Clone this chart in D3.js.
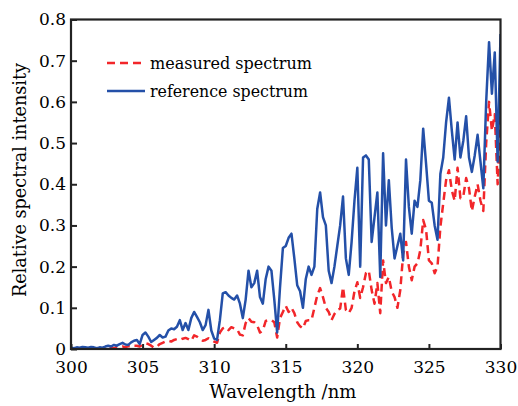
<!DOCTYPE html>
<html lang="en">
<head>
<meta charset="UTF-8">
<title>Relative spectral intensity</title>
<script src="https://d3js.org/d3.v7.min.js"></script>
<style>
  html, body { margin: 0; padding: 0; background: #fff; }
  svg { display: block; }
  text { font-family: "DejaVu Serif", serif; fill: #000; }
</style>
</head>
<body>
<svg id="chart" width="518" height="406"></svg>
<script>
// sampling grid (nm)
const wlStart = 300, wlStep = 0.2;

const reference = [
  0.003, 0.002, 0.004, 0.003, 0.005, 0.004, 0.003, 0.005, 0.004, 0.002,
  0.004, 0.003, 0.006, 0.008, 0.006, 0.010, 0.008, 0.012, 0.015, 0.011,
  0.010, 0.016, 0.020, 0.022, 0.012, 0.034, 0.040, 0.030, 0.017, 0.022,
  0.027, 0.034, 0.028, 0.030, 0.045, 0.050, 0.048, 0.054, 0.070, 0.046,
  0.063, 0.046, 0.075, 0.090, 0.078, 0.065, 0.046, 0.058, 0.095, 0.045,
  0.025, 0.022, 0.070, 0.135, 0.138, 0.130, 0.124, 0.120, 0.130, 0.110,
  0.075, 0.120, 0.190, 0.150, 0.160, 0.190, 0.126, 0.110, 0.170, 0.200,
  0.190, 0.120, 0.040, 0.150, 0.245, 0.250, 0.270, 0.280, 0.220, 0.155,
  0.140, 0.100, 0.170, 0.200, 0.180, 0.200, 0.340, 0.380, 0.320, 0.300,
  0.190, 0.160, 0.200, 0.250, 0.300, 0.370, 0.220, 0.180, 0.260, 0.360,
  0.440, 0.200, 0.465, 0.470, 0.460, 0.260, 0.320, 0.380, 0.175, 0.475,
  0.300, 0.410, 0.295, 0.220, 0.250, 0.280, 0.215, 0.460, 0.345, 0.280,
  0.360, 0.345, 0.410, 0.535, 0.450, 0.360, 0.355, 0.300, 0.265, 0.425,
  0.465, 0.550, 0.610, 0.530, 0.460, 0.550, 0.465, 0.505, 0.565, 0.465,
  0.430, 0.470, 0.520, 0.455, 0.390, 0.600, 0.745, 0.620, 0.720, 0.455,
  0.765
];

const measured = [
  0.000, 0.000, 0.001, 0.000, 0.001, 0.000, 0.001, 0.000, 0.001, 0.000,
  0.001, 0.000, 0.001, 0.002, 0.003, 0.002, 0.005, 0.004, 0.006, 0.004,
  0.007, 0.005, 0.008, 0.008, 0.006, 0.010, 0.014, 0.012, 0.008, 0.003,
  0.006, 0.012, 0.015, 0.018, 0.020, 0.018, 0.022, 0.024, 0.022, 0.025,
  0.027, 0.024, 0.020, 0.033, 0.030, 0.024, 0.020, 0.022, 0.026, 0.022,
  0.018, 0.015, 0.040, 0.050, 0.053, 0.046, 0.053, 0.050, 0.048, 0.035,
  0.033, 0.063, 0.075, 0.066, 0.065, 0.058, 0.040, 0.045, 0.068, 0.070,
  0.070, 0.065, 0.028, 0.075, 0.090, 0.105, 0.090, 0.100, 0.087, 0.065,
  0.055, 0.050, 0.068, 0.070, 0.070, 0.100, 0.130, 0.148, 0.126, 0.100,
  0.090, 0.070, 0.085, 0.095, 0.098, 0.150, 0.095, 0.087, 0.100, 0.140,
  0.162, 0.124, 0.150, 0.184, 0.190, 0.143, 0.110, 0.160, 0.087, 0.215,
  0.160, 0.175, 0.140, 0.126, 0.100, 0.143, 0.230, 0.260, 0.200, 0.167,
  0.200, 0.208, 0.240, 0.313, 0.290, 0.215, 0.208, 0.184, 0.200, 0.296,
  0.354, 0.410, 0.434, 0.385, 0.360, 0.440, 0.366, 0.370, 0.415, 0.390,
  0.335, 0.370, 0.400, 0.360, 0.335, 0.500, 0.600, 0.530, 0.570, 0.400,
  0.570
];

const xTicks = [300, 305, 310, 315, 320, 325, 330];
const yTicks = [0, 0.1, 0.2, 0.3, 0.4, 0.5, 0.6, 0.7, 0.8];

const series = [
  { name: "measured spectrum", values: measured, color: "#f2262a", dash: "8,5", width: 2.5 },
  { name: "reference spectrum", values: reference, color: "#2450a8", dash: null, width: 2.5 }
];

const svg = d3.select("#chart");
const margin = { top: 19.5, right: 17.5, bottom: 57, left: 71 };
const W = 518, H = 406;
const pw = W - margin.left - margin.right;
const ph = H - margin.top - margin.bottom;

const x = d3.scaleLinear().domain([300, 330]).range([0, pw]);
const y = d3.scaleLinear().domain([0, 0.8]).range([ph, 0]);

const g = svg.append("g").attr("transform", `translate(${margin.left},${margin.top})`);

g.append("clipPath").attr("id", "clip")
  .append("rect").attr("width", pw).attr("height", ph);

const line = d3.line()
  .x((d, i) => x(wlStart + i * wlStep))
  .y(d => y(d));

// lines
series.forEach(s => {
  g.append("path")
    .datum(s.values)
    .attr("clip-path", "url(#clip)")
    .attr("fill", "none")
    .attr("stroke", s.color)
    .attr("stroke-width", s.width)
    .attr("stroke-dasharray", s.dash)
    .attr("stroke-linejoin", "round")
    .attr("d", line);
});

// axes, ticks pointing inward
const xAxis = g.append("g")
  .attr("transform", `translate(0,${ph})`)
  .call(d3.axisBottom(x).tickValues(xTicks).tickFormat(d3.format("d"))
    .tickSizeInner(-5).tickSizeOuter(0).tickPadding(12));
const yAxis = g.append("g")
  .call(d3.axisLeft(y).tickValues(yTicks).tickFormat(d => d === 0 ? "0" : d3.format(".1f")(d))
    .tickSizeInner(-6).tickSizeOuter(0).tickPadding(10));

[xAxis, yAxis].forEach(a => {
  a.select(".domain").remove();
  a.selectAll(".tick line").attr("stroke", "#222").attr("stroke-width", 2);
  a.selectAll(".tick text")
    .attr("font-family", "DejaVu Serif, serif")
    .attr("font-size", 17)
    .attr("fill", "#000");
});
yAxis.selectAll(".tick text").attr("x", -5);

// frame
g.append("rect")
  .attr("width", pw).attr("height", ph)
  .attr("fill", "none").attr("stroke", "#222").attr("stroke-width", 2.2);

// axis titles
svg.append("text")
  .attr("x", margin.left + pw / 2 - 3)
  .attr("y", 398)
  .attr("text-anchor", "middle")
  .attr("font-size", 18)
  .attr("textLength", 147)
  .attr("lengthAdjust", "spacingAndGlyphs")
  .text("Wavelength /nm");

svg.append("text")
  .attr("transform", "translate(26,180) rotate(-90)")
  .attr("text-anchor", "middle")
  .attr("font-size", 18)
  .attr("textLength", 234)
  .attr("lengthAdjust", "spacingAndGlyphs")
  .text("Relative spectral intensity");

// legend
const legend = svg.append("g").attr("transform", "translate(107,63)");
series.forEach((s, i) => {
  const row = legend.append("g").attr("transform", `translate(0,${i * 28})`);
  row.append("line")
    .attr("x1", 0).attr("x2", 38)
    .attr("stroke", s.color)
    .attr("stroke-width", s.width)
    .attr("stroke-dasharray", s.dash);
  row.append("text")
    .attr("x", 43).attr("y", 5.5)
    .attr("font-size", 17)
    .attr("textLength", i === 0 ? 162 : 158)
    .attr("lengthAdjust", "spacingAndGlyphs")
    .text(s.name);
});
</script>
</body>
</html>
